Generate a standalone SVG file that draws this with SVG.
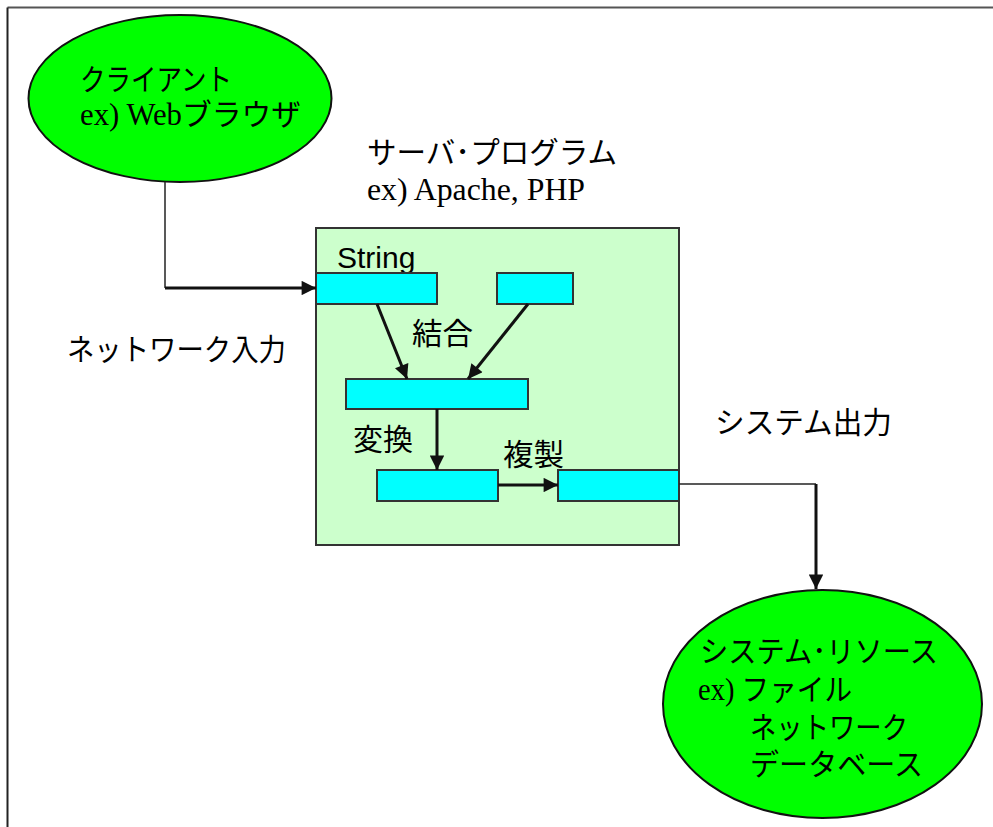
<svg xmlns="http://www.w3.org/2000/svg" width="993" height="827" viewBox="0 0 993 827">
<defs>
<style>
.jp{font-family:"Noto Sans CJK JP","Liberation Sans",sans-serif;font-size:30px;fill:#000}
.mix{font-family:"Liberation Serif","Noto Sans CJK JP",serif;font-size:31px;fill:#000}
.jk{font-family:"Noto Sans CJK JP",sans-serif;font-size:30px}
.sans{font-family:"Liberation Sans",Arial,sans-serif;font-size:30px;fill:#000}
.ell{fill:#00FF00;stroke:#111;stroke-width:2}
.bar{fill:#00FFFF;stroke:#333;stroke-width:2}
.thick{stroke:#111;stroke-width:3;fill:none}
.thin{stroke:#222;stroke-width:1.5;fill:none}
</style>
<marker id="ah" viewBox="0 0 10 10" refX="10" refY="5" markerWidth="5.3" markerHeight="4.8" orient="auto" markerUnits="strokeWidth">
<path d="M0,0 L10,5 L0,10 z" fill="#111"/>
</marker>
</defs>
<rect width="993" height="827" fill="#fff"/>
<g id="frame">
<line x1="7.5" y1="7.5" x2="993" y2="7.5" stroke="#555" stroke-width="2"/>
<line x1="7.5" y1="7.5" x2="7.5" y2="827" stroke="#222" stroke-width="2"/>
</g>
<g id="client">
<ellipse class="ell" cx="180" cy="98.5" rx="151.5" ry="83.5"/>
<text class="jp" x="80" y="90" textLength="152" lengthAdjust="spacingAndGlyphs">クライアント</text>
<text class="mix" x="80" y="125" textLength="221" lengthAdjust="spacingAndGlyphs">ex) Web<tspan class="jk">ブラウザ</tspan></text>
</g>
<g id="server-label">
<text class="jp" x="367" y="163" textLength="250" lengthAdjust="spacingAndGlyphs">サーバ･プログラム</text>
<text class="mix" x="367" y="200" textLength="218" lengthAdjust="spacingAndGlyphs">ex) Apache, PHP</text>
</g>
<g id="server">
<rect x="316" y="228" width="363" height="317" fill="#CCFFCC" stroke="#333" stroke-width="2"/>
<text class="sans" x="337" y="268">String</text>
</g>
<g id="bar1"><rect class="bar" x="316" y="273" width="121" height="31"/></g>
<g id="bar2"><rect class="bar" x="497" y="273" width="76" height="31"/></g>
<g id="bar3"><rect class="bar" x="346" y="379" width="182" height="30"/></g>
<g id="bar4"><rect class="bar" x="377" y="470" width="121" height="31"/></g>
<g id="bar5"><rect class="bar" x="558" y="470" width="121" height="31"/></g>
<g id="resource">
<ellipse class="ell" cx="822.5" cy="704" rx="159.5" ry="114"/>
<text class="jp" x="700" y="662" textLength="238" lengthAdjust="spacingAndGlyphs">システム･リソース</text>
<text class="mix" x="698" y="700" textLength="154" lengthAdjust="spacingAndGlyphs">ex) <tspan class="jk">ファイル</tspan></text>
<text class="jp" x="750" y="738" textLength="158" lengthAdjust="spacingAndGlyphs">ネットワーク</text>
<text class="jp" x="750" y="775" textLength="173" lengthAdjust="spacingAndGlyphs">データベース</text>
</g>
<g id="labels">
<text class="jp" x="67" y="360" textLength="219" lengthAdjust="spacingAndGlyphs">ネットワーク入力</text>
<text class="jp" x="715" y="433" textLength="177" lengthAdjust="spacingAndGlyphs">システム出力</text>
<text class="jp" x="412" y="344" textLength="61" lengthAdjust="spacingAndGlyphs">結合</text>
<text class="jp" x="353" y="450" textLength="60" lengthAdjust="spacingAndGlyphs">変換</text>
<text class="jp" x="503" y="465" textLength="61" lengthAdjust="spacingAndGlyphs">複製</text>
</g>
<g id="connectors">
<polyline class="thin" points="165,182 165,288"/>
<line class="thick" x1="165" y1="288" x2="316" y2="288" marker-end="url(#ah)"/>
<line class="thick" x1="377" y1="304" x2="407" y2="379" marker-end="url(#ah)"/>
<line class="thick" x1="528" y1="304" x2="468" y2="379" marker-end="url(#ah)"/>
<line class="thick" x1="437" y1="409" x2="437" y2="470" marker-end="url(#ah)"/>
<line class="thick" x1="498" y1="485" x2="558" y2="485" marker-end="url(#ah)"/>
<polyline class="thin" points="679,484 816,484"/>
<line class="thick" x1="816" y1="484" x2="816" y2="589" marker-end="url(#ah)"/>
</g>
</svg>
